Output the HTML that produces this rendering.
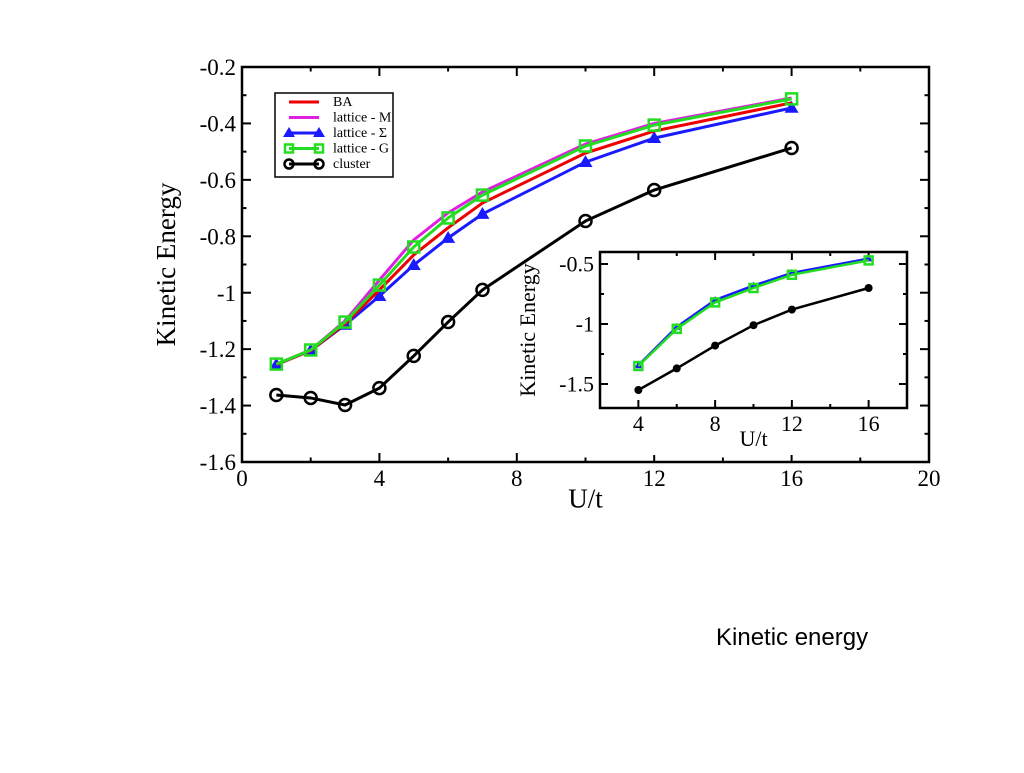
<!DOCTYPE html>
<html><head><meta charset="utf-8"><style>
body{margin:0;background:#fff;width:1024px;height:768px;overflow:hidden;font-family:"Liberation Serif",serif}
text{font-family:"Liberation Serif",serif}
</style></head><body>
<svg width="1024" height="768">
<g id="main"></g>
<g id="inset"></g>
<text x="716" y="645" font-size="24" style="font-family:'Liberation Sans',sans-serif">Kinetic energy</text>
</svg>
<script>
const xMain=[1,2,3,4,5,6,7,10,12,16];
const baVals=[-1.255,-1.205,-1.11,-0.99,-0.866,-0.77,-0.682,-0.505,-0.427,-0.327];
const mVals=[-1.253,-1.203,-1.1,-0.955,-0.813,-0.717,-0.643,-0.473,-0.4,-0.31];
const sigmaVals=[-1.255,-1.205,-1.114,-1.012,-0.902,-0.806,-0.721,-0.537,-0.452,-0.345];
const gVals=[-1.253,-1.203,-1.104,-0.973,-0.838,-0.735,-0.654,-0.48,-0.406,-0.313];
const clusterVals=[-1.3625,-1.373,-1.398,-1.338,-1.224,-1.104,-0.99,-0.746,-0.636,-0.487];
const xTicks=[0,4,8,12,16,20];
const yTicks=[-1.6,-1.4,-1.2,-1,-0.8,-0.6,-0.4,-0.2];
const yTickLabels=["-1.6","-1.4","-1.2","-1","-0.8","-0.6","-0.4","-0.2"];
const xInset=[4,6,8,10,12,16];
const insetLattice=[-1.35,-1.04,-0.82,-0.70,-0.59,-0.47];
const insetSigma=[-1.345,-1.025,-0.8,-0.68,-0.575,-0.455];
const insetCluster=[-1.55,-1.37,-1.18,-1.01,-0.88,-0.70];
const insetXTicks=[4,8,12,16];
const insetYTicks=[-1.5,-1,-0.5];
const insetYLabels=["-1.5","-1","-0.5"];
const NS="http://www.w3.org/2000/svg";
function mk(p,t,a){const e=document.createElementNS(NS,t);for(const k in a)e.setAttribute(k,a[k]);p.appendChild(e);return e;}
function plot(g,L,R,T,B,x0,x1,y0,y1,o){
 const sx=v=>L+(v-x0)/(x1-x0)*(R-L), sy=v=>B-(v-y0)/(y1-y0)*(B-T);
 const f=mk(g,'rect',{x:L,y:T,width:R-L,height:B-T,fill:'none',stroke:'#000','stroke-width':o.sw});
 
 
 o.xt.forEach((v,i)=>{const x=sx(v);
  mk(g,'line',{x1:x,x2:x,y1:B,y2:B-o.tl,stroke:'#000','stroke-width':2});
  mk(g,'line',{x1:x,x2:x,y1:T,y2:T+o.tl,stroke:'#000','stroke-width':2});
  const t=mk(g,'text',{x:x,y:B+o.fs+1,'text-anchor':'middle','font-size':o.fs});t.textContent=String(v);
  
  
  if(i<o.xt.length-1&&o.minor){const m=sx(v+(o.xt[1]-o.xt[0])/2);
   mk(g,'line',{x1:m,x2:m,y1:B,y2:B-o.tl/2,stroke:'#000','stroke-width':2});
   mk(g,'line',{x1:m,x2:m,y1:T,y2:T+o.tl/2,stroke:'#000','stroke-width':2});}
 });
 o.yt.forEach((v,i)=>{const y=sy(v);
  mk(g,'line',{x1:L,x2:L+o.tl,y1:y,y2:y,stroke:'#000','stroke-width':2});
  mk(g,'line',{x1:R,x2:R-o.tl,y1:y,y2:y,stroke:'#000','stroke-width':2});
  const t=mk(g,'text',{x:L-6,y:y+o.fs*0.35,'text-anchor':'end','font-size':o.fs});t.textContent=o.yl[i];
  
  
  if(i<o.yt.length-1){const m=sy(v+(o.yt[1]-o.yt[0])/2);
   mk(g,'line',{x1:L,x2:L+o.tl/2,y1:m,y2:m,stroke:'#000','stroke-width':2});
   mk(g,'line',{x1:R,x2:R-o.tl/2,y1:m,y2:m,stroke:'#000','stroke-width':2});}
 });
 const xt=mk(g,'text',{x:(L+R)/2,y:B+o.fs*1.9+o.xtd,'text-anchor':'middle','font-size':o.tfs});xt.textContent='U/t';
 
 
 const yt=mk(g,'text',{x:0,y:0,'text-anchor':'middle','font-size':o.tfs,transform:`translate(${o.ytx},${(T+B)/2}) rotate(-90)`});yt.textContent='Kinetic Energy';
 
 
 return {sx,sy};
}
function series(g,s,xs,ys,col,w,mark,ms,name){
 const pl=mk(g,'polyline',{points:xs.map((x,i)=>s.sx(x)+','+s.sy(ys[i])).join(' '),fill:'none',stroke:col,'stroke-width':w});
 
 
 xs.forEach((x,i)=>{const cx=s.sx(x),cy=s.sy(ys[i]);let m=null;
  if(mark==='tri')m=mk(g,'polygon',{points:`${cx},${cy-ms} ${cx-ms},${cy+ms*0.7} ${cx+ms},${cy+ms*0.7}`,fill:col});
  else if(mark==='sq')m=mk(g,'rect',{x:cx-ms,y:cy-ms,width:2*ms,height:2*ms,fill:'none',stroke:col,'stroke-width':2.5});
  else if(mark==='circ')m=mk(g,'circle',{cx,cy,r:ms,fill:'none',stroke:col,'stroke-width':2.5});
  else if(mark==='dot')m=mk(g,'circle',{cx,cy,r:ms,fill:col});
  if(m){
  }
 });
}
const gm=document.getElementById('main');
const sm=plot(gm,242,929,67,462,0,20,-1.6,-0.2,{sw:2.5,tl:9,fs:23,tfs:27,xtd:2,xt:xTicks,yt:yTicks,yl:yTickLabels,ytx:175,minor:true});
series(gm,sm,xMain,clusterVals,'#000',3,'circ',6,'cluster');
series(gm,sm,xMain,sigmaVals,'#1a1aff',3,'tri',7,'lattice-sigma');
series(gm,sm,xMain,baVals,'#e00',3,null,0,'ba');
series(gm,sm,xMain,mVals,'#e020e0',3,null,0,'lattice-m');
series(gm,sm,xMain,gVals,'#22dd22',3,'sq',5.5,'lattice-g');
const lg=mk(gm,'g',{});


mk(lg,'rect',{x:275,y:93,width:118,height:84,fill:'#fff',stroke:'#000','stroke-width':1.5});
const leg=[['BA','#e00',null],['lattice - M','#e020e0',null],['lattice - Σ','#1a1aff','tri'],['lattice - G','#22dd22','sq'],['cluster','#000','circ']];
leg.forEach((e,i)=>{const y=102+i*15.5;
 const ent=mk(lg,'g',{});
 
 
 mk(ent,'line',{x1:289,x2:319,y1:y,y2:y,stroke:e[1],'stroke-width':3});
 [289,319].forEach(cx=>{if(e[2]==='tri')mk(ent,'polygon',{points:`${cx},${y-6} ${cx-6},${y+4} ${cx+6},${y+4}`,fill:e[1]});
  else if(e[2]==='sq')mk(ent,'rect',{x:cx-4,y:y-4,width:8,height:8,fill:'none',stroke:e[1],'stroke-width':2.5});
  else if(e[2]==='circ')mk(ent,'circle',{cx,cy:y,r:4.5,fill:'none',stroke:e[1],'stroke-width':2.5});});
 const t=mk(ent,'text',{x:333,y:y+4,'font-size':14});t.textContent=e[0];
});
const gi=document.getElementById('inset');
mk(gi,'rect',{x:560,y:245,width:360,height:210,fill:'#fff'});
const si=plot(gi,600,907,252,408,2,18,-1.7,-0.4,{sw:2.5,tl:8,fs:22,tfs:22,xtd:-4,xt:insetXTicks,yt:insetYTicks,yl:insetYLabels,ytx:535,minor:true});
series(gi,si,xInset,insetCluster,'#000',2.5,'dot',4,'inset-cluster');
series(gi,si,xInset,insetSigma,'#1a1aff',2.5,'tri',4,'inset-lattice-sigma');
series(gi,si,xInset,insetLattice,'#22dd22',2.5,'sq',4,'inset-lattice-g');
</script>
</body></html>
